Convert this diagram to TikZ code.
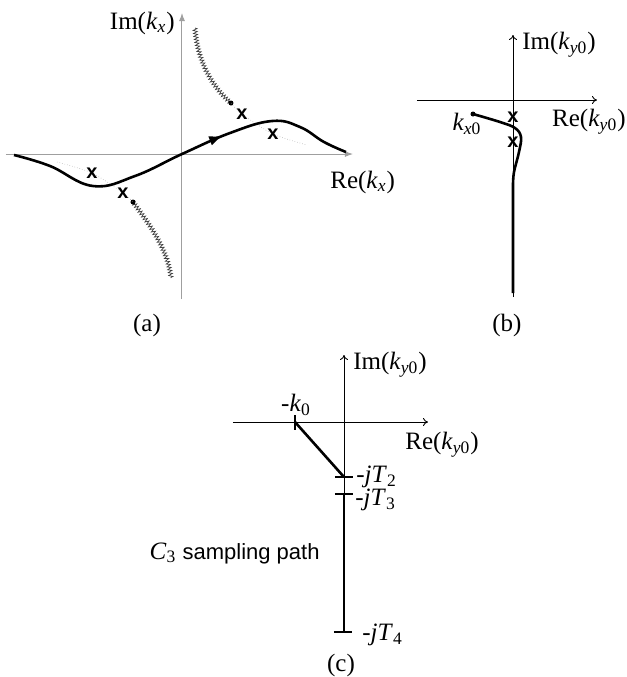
\documentclass[tikz,border=0pt]{standalone}
\usepackage{fontspec}
\setmainfont{Liberation Serif}
\setsansfont{Liberation Sans}
\usetikzlibrary{positioning,arrows.meta,decorations.pathmorphing,decorations.markings}
\newcommand{\ksub}[1]{\textit{k}\textsubscript{#1}}

\begin{document}
\begin{tikzpicture}[x=0.5pt,y=0.5pt,
  lbl/.style={font=\fontsize{12.5}{15}\selectfont, inner sep=0pt},
  axisa/.style={draw=gray!75, line width=0.5pt, -{Latex[length=4pt,width=3pt]}},
  axisb/.style={draw=black, line width=0.45pt, -{To[length=2.5pt,width=4pt]}},
  pathline/.style={line width=1.3pt},
  branchcut/.style={draw=gray!50!black, line width=0.35pt, decorate,
    decoration={zigzag, segment length=1.5pt, amplitude=1pt}},
  guide/.style={draw=gray!60, line width=0.3pt, densely dotted},
  pole/.style={font=\sffamily\bfseries\fontsize{10}{10}\selectfont, inner sep=0pt},
  tickmark/.style={line width=1.3pt},
  dot/.style={circle, fill, inner sep=0pt, minimum size=2.5pt}]
\useasboundingbox (0,0) rectangle (627,-677);

% (a) k_x plane
\coordinate (aW) at (6,-154); \coordinate (aE) at (353,-154);
\coordinate (aS) at (182,-299); \coordinate (aN) at (182,-13);
\draw[axisa] (aW) -- (aE);
\draw[axisa] (aS) -- (aN);
\node[lbl, anchor=east] (imkx) at (175,-23) {Im(\ksub{\textit{x}})};
\node[lbl, anchor=west] (rekx) at (330,-182) {Re(\ksub{\textit{x}})};
% branch cuts
\coordinate (cutL) at (133,-202); \coordinate (cutLend) at (171,-278);
\coordinate (cutU) at (231,-103); \coordinate (cutUend) at (195,-28);
\draw[branchcut] (cutL) .. controls (150,-225) and (168,-250) .. (cutLend);
\draw[branchcut] (cutUend) .. controls (197,-60) and (212,-87) .. (cutU);
\node[dot] (dotL) at (cutL) {};
\node[dot] (dotU) at (cutU) {};
% poles
\coordinate (P1) at (92,-173); \coordinate (P2) at (123,-193);
\coordinate (P3) at (242,-114); \coordinate (P4) at (273,-134);
\draw[guide] plot[smooth] coordinates {(57,-162) (92,-173) (123,-193) (133,-202)};
\draw[guide] plot[smooth] coordinates {(231,-103) (242,-114) (273,-134) (307,-145)};
\node[pole] (p1) at (P1) {x};
\node[pole] (p2) at (P2) {x};
\node[pole] (p3) at (P3) {x};
\node[pole] (p4) at (P4) {x};
% integration path
\draw[pathline, postaction={decorate}, decoration={markings,
    mark=at position 0.63 with {\arrow{Latex[length=7pt,width=5pt]}}}]
  plot[smooth, tension=0.7] coordinates {(14,-155) (50,-166) (93,-186) (135,-176)
    (182,-154) (230,-133) (272,-121) (300,-127) (324,-142) (346,-152)};
\node[lbl] (capa) at (147,-325) {(a)};

% (b) k_y0 plane
\coordinate (bW) at (417,-100); \coordinate (bE) at (597,-100);
\coordinate (bS) at (513,-297); \coordinate (bN) at (513,-35);
\draw[axisb] (bW) -- (bE);
\draw[axisb] (bS) -- (bN);
\node[lbl, anchor=west] (imky) at (522,-45) {Im(\ksub{\textit{y}0})};
\node[lbl, anchor=east] (reky) at (626,-122) {Re(\ksub{\textit{y}0})};
\node[pole] (q1) at (513,-117) {x};
\node[pole] (q2) at (513,-142) {x};
\draw[pathline] plot[smooth, tension=0.6] coordinates {(473,-114) (500,-122) (515,-128)
    (521,-137) (519,-152) (514,-172) (513,-185)} -- (513,-293);
\node[dot] (kx0) at (473,-114) {};
\node[lbl] (kx0lbl) at (467,-124) {\ksub{\textit{x}0}};
\node[lbl] (capb) at (507,-325) {(b)};

% (c) sampling path
\coordinate (cW) at (233,-422); \coordinate (cE) at (428,-422);
\coordinate (cS) at (344,-632); \coordinate (cN) at (344,-355);
\draw[axisb] (cW) -- (cE);
\draw[axisb] (cS) -- (cN);
\node[lbl, anchor=west] (imkyc) at (353,-365) {Im(\ksub{\textit{y}0})};
\node[lbl, anchor=west] (rekyc) at (405,-445) {Re(\ksub{\textit{y}0})};
\coordinate (k0) at (295,-422);
\coordinate (T2) at (344,-477);
\coordinate (T3) at (344,-494);
\coordinate (T4) at (344,-632);
\draw[tickmark] ([yshift=3.5pt]k0) -- ([yshift=-4pt]k0);
\draw[tickmark] ([xshift=-4.5pt]T2) -- ([xshift=4.5pt]T2);
\draw[tickmark] ([xshift=-4.5pt]T3) -- ([xshift=4.5pt]T3);
\draw[tickmark] ([xshift=-5pt]T4) -- ([xshift=4pt]T4);
\draw[pathline] (k0) -- (T2);
\draw[pathline] (T3) -- (T4);
\node[lbl, anchor=south] (k0lbl) at (296,-416) {-\textit{k}\textsubscript{0}};
\node[lbl, anchor=west] (T2lbl) at (356,-477) {-\textit{jT}\textsubscript{2}};
\node[lbl, anchor=west] (T3lbl) at (355,-500) {-\textit{jT}\textsubscript{3}};
\node[lbl, anchor=west] (T4lbl) at (362,-635) {-\textit{jT}\textsubscript{4}};
\node[lbl, anchor=east] (c3lbl) at (320,-553) {\textit{C}\textsubscript{3} {\sffamily\fontsize{11}{13}\selectfont sampling path}};
\node[lbl] (capc) at (341,-665) {(c)};
\end{tikzpicture}
\end{document}
